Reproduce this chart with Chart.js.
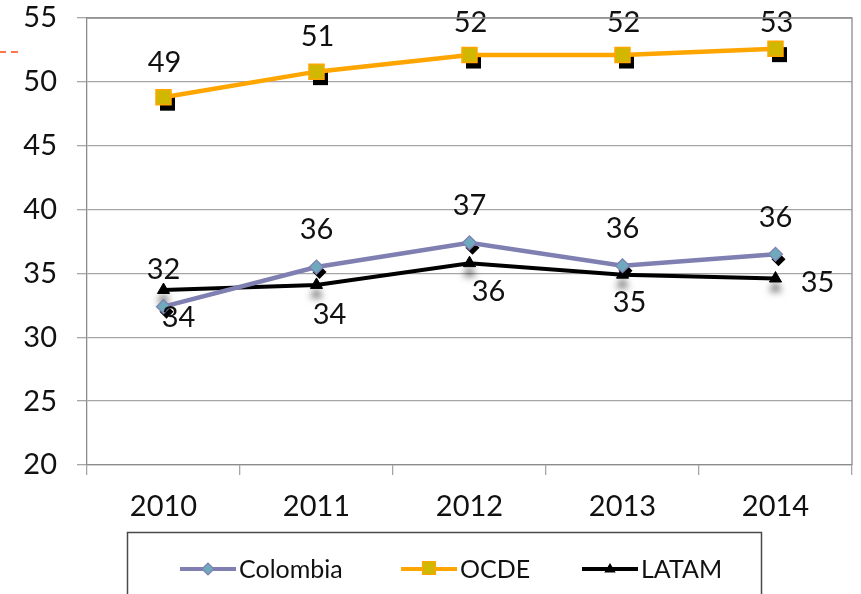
<!DOCTYPE html>
<html><head><meta charset="utf-8">
<script src="https://cdn.jsdelivr.net/npm/chart.js@4/dist/chart.umd.min.js"></script>
<style>html,body{margin:0;padding:0;background:#fff}#wrap{width:861px;height:594px;position:relative}canvas{display:block}</style>
</head><body><div id="wrap"><canvas id="c" width="861" height="594"></canvas></div>
<script>
const years = ['2010', '2011', '2012', '2013', '2014'];
const colombia = [32.4, 35.5, 37.4, 35.6, 36.5];
const ocde = [48.8, 50.8, 52.1, 52.1, 52.6];
const latam = [33.7, 34.1, 35.8, 34.9, 34.6];
const colombiaLabels = ['32', '36', '37', '36', '36'];
const ocdeLabels = ['49', '51', '52', '52', '53'];
const latamLabels = ['34', '34', '36', '35', '35'];
const yMin = 20, yMax = 55, yStep = 5;

const FONT = 'Lato, "Open Sans", sans-serif';
const COL_LINE = '#7f7fb2', COL_FILL = '#6fa9bd';
const OC_LINE = '#ffa500', OC_FILL = '#d2b700';
const LA_LINE = '#000000';

function diamond(ctx, x, y, r) { ctx.beginPath(); ctx.moveTo(x - r, y); ctx.lineTo(x, y - r); ctx.lineTo(x + r, y); ctx.lineTo(x, y + r); ctx.closePath(); }
function square(ctx, x, y, s) { ctx.beginPath(); ctx.rect(x - s, y - s, 2 * s, 2 * s); }
function triangle(ctx, x, y, r) { ctx.beginPath(); ctx.moveTo(x, y - r); ctx.lineTo(x + r * 0.95, y + r * 0.6); ctx.lineTo(x - r * 0.95, y + r * 0.6); ctx.closePath(); }

const decorPlugin = {
  id: 'decor',
  beforeDatasetsDraw(chart) {
    const ctx = chart.ctx;
    ctx.save();
    chart.getDatasetMeta(0).data.forEach(p => { diamond(ctx, p.x + 3, p.y + 5, 7); ctx.fillStyle = '#000'; ctx.fill(); });
    chart.getDatasetMeta(1).data.forEach(p => { square(ctx, p.x + 4, p.y + 6, 7.5); ctx.fillStyle = '#000'; ctx.fill(); });
    chart.getDatasetMeta(2).data.forEach(p => {
      ctx.save();
      ctx.shadowColor = 'rgba(0,0,0,0.55)'; ctx.shadowBlur = 7; ctx.shadowOffsetY = 9;
      triangle(ctx, p.x, p.y, 7); ctx.fillStyle = '#fff'; ctx.fill();
      ctx.restore();
    });
    ctx.restore();
  },
  afterDatasetsDraw(chart) {
    const ctx = chart.ctx;
    const area = chart.chartArea;
    ctx.save();
    ctx.font = '29px ' + FONT;
    ctx.fillStyle = '#111';
    ctx.textAlign = 'center';
    ctx.textBaseline = 'middle';
    const sets = [
      { meta: chart.getDatasetMeta(0), labels: colombiaLabels, off: i => [0, -37] },
      { meta: chart.getDatasetMeta(1), labels: ocdeLabels, off: i => [1, -35] },
      { meta: chart.getDatasetMeta(2), labels: latamLabels, off: i => (i === 4 ? [42, 4] : [[15, 28], [13, 30], [19, 28], [7, 28]][i]) }
    ];
    sets.forEach(s => {
      s.meta.data.forEach((p, i) => {
        const o = s.off(i);
        let y = Math.max(p.y + o[1], area.top + 5);
        ctx.fillText(s.labels[i], p.x + o[0], y);
      });
    });
    ctx.restore();
  },
  afterDraw(chart) {
    const ctx = chart.ctx;
    const a = chart.chartArea;
    ctx.save();
    ctx.strokeStyle = '#8c8c8c'; ctx.lineWidth = 1.3;
    ctx.beginPath(); ctx.moveTo(a.left, a.top); ctx.lineTo(a.right, a.top); ctx.lineTo(a.right, a.bottom); ctx.stroke();
    ctx.strokeStyle = '#ff4a12'; ctx.lineWidth = 1.6; ctx.setLineDash([7, 5]);
    ctx.beginPath(); ctx.moveTo(-1, 52); ctx.lineTo(21, 52); ctx.stroke();
    ctx.setLineDash([]);
    ctx.strokeStyle = '#4a4a4a'; ctx.lineWidth = 1.5;
    ctx.strokeRect(127.5, 532.5, 634, 90);
    const items = chart.data.datasets;
    const xs = [180, 401, 582];
    const ly = 569;
    items.forEach((ds, i) => {
      const x0 = xs[i], x1 = x0 + 56, xm = (x0 + x1) / 2;
      ctx.strokeStyle = ds.borderColor; ctx.lineWidth = 4; ctx.lineCap = 'butt';
      ctx.beginPath(); ctx.moveTo(x0, ly); ctx.lineTo(x1, ly); ctx.stroke();
      ctx.lineWidth = 1.2;
      if (i === 0) { diamond(ctx, xm, ly, 6); ctx.fillStyle = COL_FILL; ctx.fill(); ctx.strokeStyle = COL_LINE; ctx.stroke(); }
      if (i === 1) { square(ctx, xm, ly - 1, 6.5); ctx.fillStyle = OC_FILL; ctx.fill(); ctx.strokeStyle = OC_LINE; ctx.stroke(); }
      if (i === 2) { triangle(ctx, xm, ly, 6); ctx.fillStyle = '#000'; ctx.fill(); }
      ctx.fillStyle = '#111'; ctx.font = '25px ' + FONT; ctx.textAlign = 'left'; ctx.textBaseline = 'middle';
      ctx.fillText(ds.label, x1 + 3, ly + 1);
    });
    ctx.restore();
  }
};

new Chart(document.getElementById('c'), {
  type: 'line',
  data: {
    labels: years,
    datasets: [
      { label: 'Colombia', data: colombia, borderColor: COL_LINE, backgroundColor: COL_FILL, borderWidth: 4.5,
        pointStyle: 'rectRot', pointRadius: 7, pointBackgroundColor: COL_FILL, pointBorderColor: COL_LINE, pointBorderWidth: 1.2, tension: 0 },
      { label: 'OCDE', data: ocde, borderColor: OC_LINE, backgroundColor: OC_FILL, borderWidth: 4.5,
        pointStyle: 'rect', pointRadius: 10.6, pointBackgroundColor: OC_FILL, pointBorderColor: OC_LINE, pointBorderWidth: 1.5, tension: 0 },
      { label: 'LATAM', data: latam, borderColor: LA_LINE, backgroundColor: LA_LINE, borderWidth: 4,
        pointStyle: 'triangle', pointRadius: 7, pointBackgroundColor: '#000', pointBorderColor: '#000', pointBorderWidth: 1, tension: 0 }
    ]
  },
  options: {
    responsive: false,
    devicePixelRatio: 1,
    animation: false,
    events: [],
    layout: { autoPadding: false, padding: { top: 18, right: 9, left: 0, bottom: 0 } },
    plugins: { legend: { display: false }, tooltip: { enabled: false } },
    scales: {
      x: {
        offset: true,
        grid: { display: true, drawOnChartArea: false, drawTicks: true, tickLength: 10, color: '#a6a6a6', lineWidth: 1.3, offset: true },
        border: { display: true, color: '#8c8c8c', width: 1.3 },
        ticks: { color: '#111', font: { family: FONT, size: 29 }, padding: 14, maxRotation: 0 },
        afterFit(s) { s.height = 129; s.paddingLeft = 0; s.paddingRight = 0; }
      },
      y: {
        min: yMin, max: yMax,
        grid: { color: '#a6a6a6', lineWidth: 1.3, tickLength: 10, drawTicks: true },
        border: { display: true, color: '#8c8c8c', width: 1.3 },
        ticks: { stepSize: yStep, color: '#111', font: { family: FONT, size: 29 }, padding: 20 },
        afterFit(s) { s.width = 87; s.paddingTop = 0; s.paddingBottom = 0; }
      }
    }
  },
  plugins: [decorPlugin]
});
</script>
</body></html>
